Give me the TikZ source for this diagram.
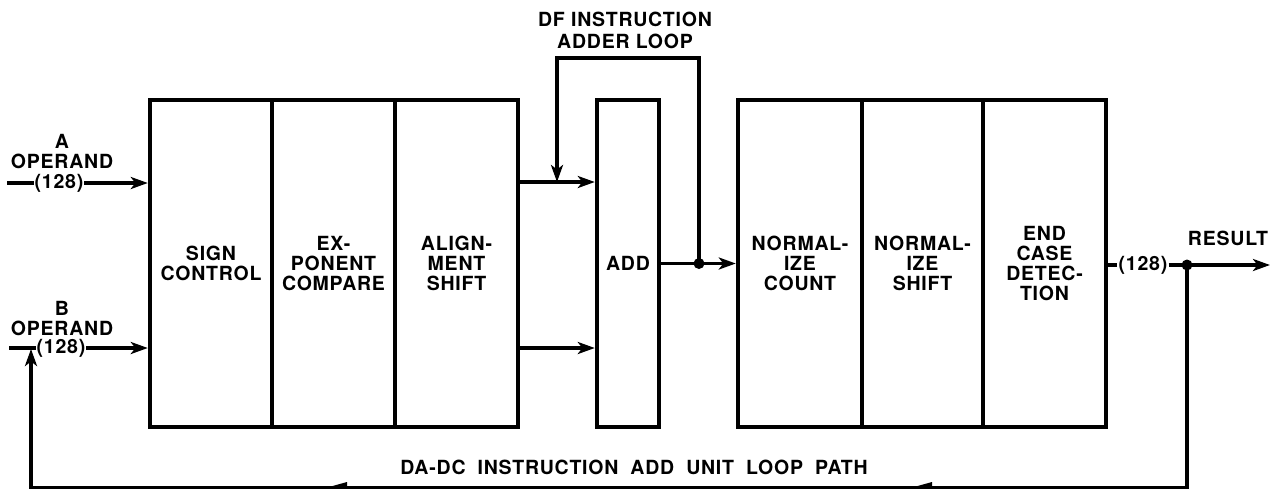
\documentclass[tikz,border=0pt]{standalone}
\usepackage{fontspec}
\setsansfont{TeX Gyre Heros}[LetterSpace=4]
\usetikzlibrary{arrows.meta}
\begin{document}
\begin{tikzpicture}[x=1pt,y=-1pt,
  lbl/.style={font=\sffamily\bfseries\fontsize{19.5}{20}\selectfont, align=center, inner sep=1pt},
  cell/.style={draw, line width=4.4pt, minimum height=327pt, inner sep=0pt, lbl},
  conn/.style={line width=3.2pt},
  tip/.style={-{Stealth[length=17pt,width=12pt,inset=4.5pt]}},
  dot/.style={circle, fill=black, inner sep=0pt, minimum size=11pt}
]
\useasboundingbox (0,0) rectangle (1280,491);
% boxes
\node[cell, minimum width=122pt] (sign)  at (211,263.5) {SIGN\\CONTROL};
\node[cell, minimum width=123pt] (expo)  at (333.5,263.5) {EX-\\PONENT\\COMPARE};
\node[cell, minimum width=123pt] (align) at (456.5,263.5) {ALIGN-\\MENT\\SHIFT};
\node[cell, minimum width=62pt]  (add)   at (628,263.5) {ADD};
\node[cell, minimum width=124pt] (ncount) at (800,263.5) {NORMAL-\\IZE\\COUNT};
\node[cell, minimum width=121pt] (nshift) at (922.5,263.5) {NORMAL-\\IZE\\SHIFT};
\node[cell, minimum width=123pt] (endc)   at (1044.5,263.5) {END\\CASE\\DETEC-\\TION};
% inputs
\coordinate (aStart) at (7,183);
\coordinate (bStart) at (9,348);
\draw[conn,tip] (aStart) -- (sign.west |- aStart);
\draw[conn,tip] (bStart) -- (sign.west |- bStart);
\node[lbl, fill=white] (a128) at (59,183) {(128)};
\node[lbl, fill=white] (b128) at (61,348) {(128)};
\node[lbl] (alab) at (62,151.5) {A\\OPERAND};
\node[lbl] (blab) at (62,318.5) {B\\OPERAND};
% into adder
\coordinate (up) at (0,182);
\coordinate (lo) at (0,348);
\draw[conn,tip] (align.east |- up) -- (add.west |- up);
\draw[conn,tip] (align.east |- lo) -- (add.west |- lo);
% adder output and DF loop
\coordinate (j1) at (699,263.5);
\coordinate (dfTR) at (699,58);
\coordinate (dfIn) at (557,182);
\draw[conn] (add.east) -- (j1);
\draw[conn,tip] (j1) -- (ncount.west);
\draw[conn,tip] (j1) -- (dfTR) -| (dfIn);
\node[dot] (d1) at (j1) {};
\node[lbl] (dflab) at (625,30) {DF INSTRUCTION\\[2pt]ADDER LOOP};
% result
\node[lbl, fill=white] (r128) at (1143,265) {(128)};
\coordinate (j2) at (1187,265);
\coordinate (resEnd) at (1270,265);
\draw[conn] (endc.east |- r128) -- (r128.west);
\draw[conn] (r128.east) -- (j2);
\draw[conn,tip] (j2) -- (resEnd);
\node[lbl] (reslab) at (1228,238) {RESULT};
% feedback loop
\coordinate (fbR) at (1187,487.5);
\coordinate (fbUp) at (31,349);
\draw[conn,tip] (j2) -- (fbR) -| (fbUp);
\node[dot] (d2) at (j2) {};
\fill (329,487) -- (347,482) -- (347,487) -- cycle;
\fill (914,487) -- (932,482) -- (932,487) -- cycle;
\node[lbl] (looplab) at (634,467) {\spaceskip=12pt plus 2pt\relax DA-DC INSTRUCTION ADD UNIT LOOP PATH};
\end{tikzpicture}
\end{document}
